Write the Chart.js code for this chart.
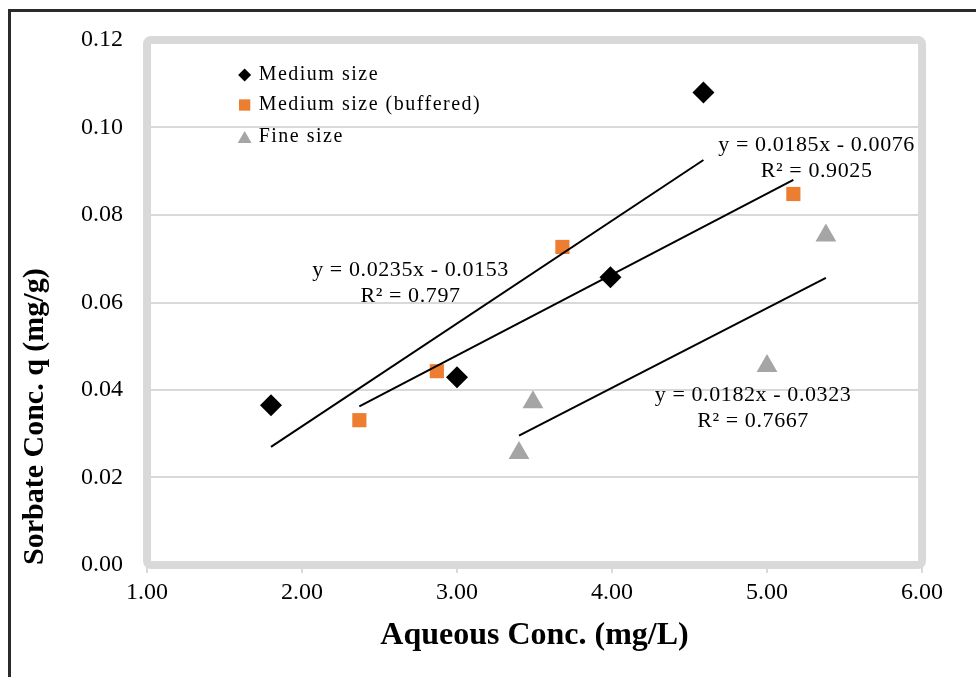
<!DOCTYPE html>
<html><head><meta charset="utf-8">
<script src="https://cdn.jsdelivr.net/npm/chart.js@4.4.1/dist/chart.umd.min.js"></script>
<style>
html,body{margin:0;padding:0;background:#fff;overflow:hidden;}
#wrap{position:relative;width:976px;height:677px;overflow:hidden;}
#frame{position:absolute;left:8px;top:9px;width:1200px;height:900px;border:3px solid #2b2b2b;pointer-events:none;}
canvas{position:absolute;left:0;top:0;}
</style></head><body>
<div id="wrap"><canvas id="c" width="976" height="677"></canvas><div id="frame"></div></div>
<script>
// ---- data ----
const seriesNames = ['Medium size', 'Medium size (buffered)', 'Fine size'];
const mediumX = [1.80, 3.00, 3.99, 4.59];
const mediumY = [0.0365, 0.0429, 0.0658, 0.1080];
const bufferedX = [2.37, 2.87, 3.68, 5.17];
const bufferedY = [0.0331, 0.0443, 0.0727, 0.0848];
const fineX = [3.40, 3.49, 5.00, 5.38];
const fineY = [0.0256, 0.0372, 0.0455, 0.0753];
const trendSlopes = [0.0235, 0.0185, 0.0182];
const trendIntercepts = [-0.0153, -0.0076, -0.0323];
const trendLabels = [
  ['y = 0.0235x - 0.0153', 'R² = 0.797'],
  ['y = 0.0185x - 0.0076', 'R² = 0.9025'],
  ['y = 0.0182x - 0.0323', 'R² = 0.7667']
];
const trendLabelAnchors = [[2.70, 0.0674], [5.32, 0.0960], [4.91, 0.0389]];
const xTickValues = [1, 2, 3, 4, 5, 6];
const xTickLabels = ['1.00', '2.00', '3.00', '4.00', '5.00', '6.00'];
const yTickValues = [0, 0.02, 0.04, 0.06, 0.08, 0.10, 0.12];
const yTickLabels = ['0.00', '0.02', '0.04', '0.06', '0.08', '0.10', '0.12'];
const xTitle = 'Aqueous Conc. (mg/L)';
const yTitle = 'Sorbate Conc. q (mg/g)';

// ---- styles ----
const colors = ['#000000', '#ED7D31', '#A5A5A5'];
const styles = ['rectRot', 'rect', 'triangle'];
const radii = [11, 10, 12];
const serif = "'Liberation Serif', 'Times New Roman', serif";

const xs = [mediumX, bufferedX, fineX];
const ys = [mediumY, bufferedY, fineY];

const datasets = [];
for (let i = 0; i < 3; i++) {
  datasets.push({
    type: 'scatter',
    label: seriesNames[i],
    data: xs[i].map((x, k) => ({x: x, y: ys[i][k]})),
    pointStyle: styles[i],
    pointRadius: radii[i],
    pointHoverRadius: radii[i],
    backgroundColor: colors[i],
    borderColor: colors[i],
    borderWidth: 0,
    order: 1
  });
}
for (let i = 0; i < 3; i++) {
  const x0 = Math.min(...xs[i]), x1 = Math.max(...xs[i]);
  datasets.push({
    type: 'line',
    label: 'trend' + i,
    data: [x0, x1].map(x => ({x: x, y: trendSlopes[i] * x + trendIntercepts[i]})),
    borderColor: '#000',
    borderWidth: 2,
    pointRadius: 0,
    fill: false,
    showLine: true,
    order: 0
  });
}

const plotBorder = {
  id: 'plotBorder',
  beforeDatasetsDraw(chart) {
    const {ctx, chartArea: a} = chart;
    ctx.save();
    ctx.strokeStyle = '#d9d9d9';
    ctx.lineWidth = 8;
    ctx.beginPath();
    if (ctx.roundRect) ctx.roundRect(a.left, a.top, a.right - a.left, a.bottom - a.top, 4);
    else ctx.rect(a.left, a.top, a.right - a.left, a.bottom - a.top);
    ctx.stroke();
    ctx.restore();
  }
};

const annotations = {
  id: 'annotations',
  afterDraw(chart) {
    const {ctx, scales: {x, y}} = chart;
    ctx.save();
    // equations
    ctx.fillStyle = '#000';
    ctx.font = '22px ' + serif;
    if ('letterSpacing' in ctx) ctx.letterSpacing = '0.6px';
    ctx.textAlign = 'center';
    ctx.textBaseline = 'middle';
    trendLabels.forEach((lines, i) => {
      const px = x.getPixelForValue(trendLabelAnchors[i][0]);
      const py = y.getPixelForValue(trendLabelAnchors[i][1]);
      lines.forEach((t, j) => ctx.fillText(t, px, py + j * 26));
    });
    // legend
    const lx = x.getPixelForValue(1.63), ly = y.getPixelForValue(0.112);
    ctx.font = '20px ' + serif;
    if ('letterSpacing' in ctx) ctx.letterSpacing = '1.5px';
    ctx.textAlign = 'left';
    const legendR = [6.5, 8, 8];
    const rowY = [0, 30, 62];
    seriesNames.forEach((n, i) => {
      ctx.fillStyle = colors[i];
      ctx.strokeStyle = colors[i];
      Chart.helpers.drawPoint(ctx, {pointStyle: styles[i], radius: legendR[i], rotation: 0, borderWidth: 0}, lx, ly + rowY[i] + (i === 2 ? 2 : 0));
      ctx.fillStyle = '#000';
      ctx.fillText(n, lx + 14, ly + rowY[i]);
    });
    ctx.restore();
  }
};

new Chart(document.getElementById('c'), {
  data: {datasets: datasets},
  options: {
    responsive: false,
    animation: false,
    events: [],
    layout: {padding: {left: 0, top: 40, right: 54, bottom: 0}},
    plugins: {legend: {display: false}, tooltip: {enabled: false}},
    scales: {
      x: {
        type: 'linear', min: 1, max: 6,
        afterBuildTicks: s => { s.ticks = xTickValues.map(v => ({value: v})); },
        afterFit: s => { s.height = 112; },
        ticks: {
          callback: (v, i) => xTickLabels[i],
          font: {family: serif, size: 24}, color: '#000', padding: 5, maxRotation: 0
        },
        grid: {drawOnChartArea: false, drawTicks: true, tickLength: 8, color: '#d9d9d9', lineWidth: 2},
        border: {display: false},
        title: {display: true, text: xTitle, color: '#000',
          font: {family: serif, size: 32, weight: 'bold'}, padding: {top: 0, bottom: 22}}
      },
      y: {
        type: 'linear', min: 0, max: 0.12,
        afterBuildTicks: s => { s.ticks = yTickValues.map(v => ({value: v})); },
        afterFit: s => { s.width = 147; },
        ticks: {
          callback: (v, i) => yTickLabels[i],
          font: {family: serif, size: 24}, color: '#000', padding: 24
        },
        grid: {drawTicks: false, color: '#d9d9d9', lineWidth: 2},
        border: {display: false},
        title: {display: true, text: yTitle, color: '#000', align: 'start',
          font: {family: serif, size: 30, weight: 'bold'}, padding: {top: 17, bottom: 0}}
      }
    }
  },
  plugins: [plotBorder, annotations]
});
</script>
</body></html>
